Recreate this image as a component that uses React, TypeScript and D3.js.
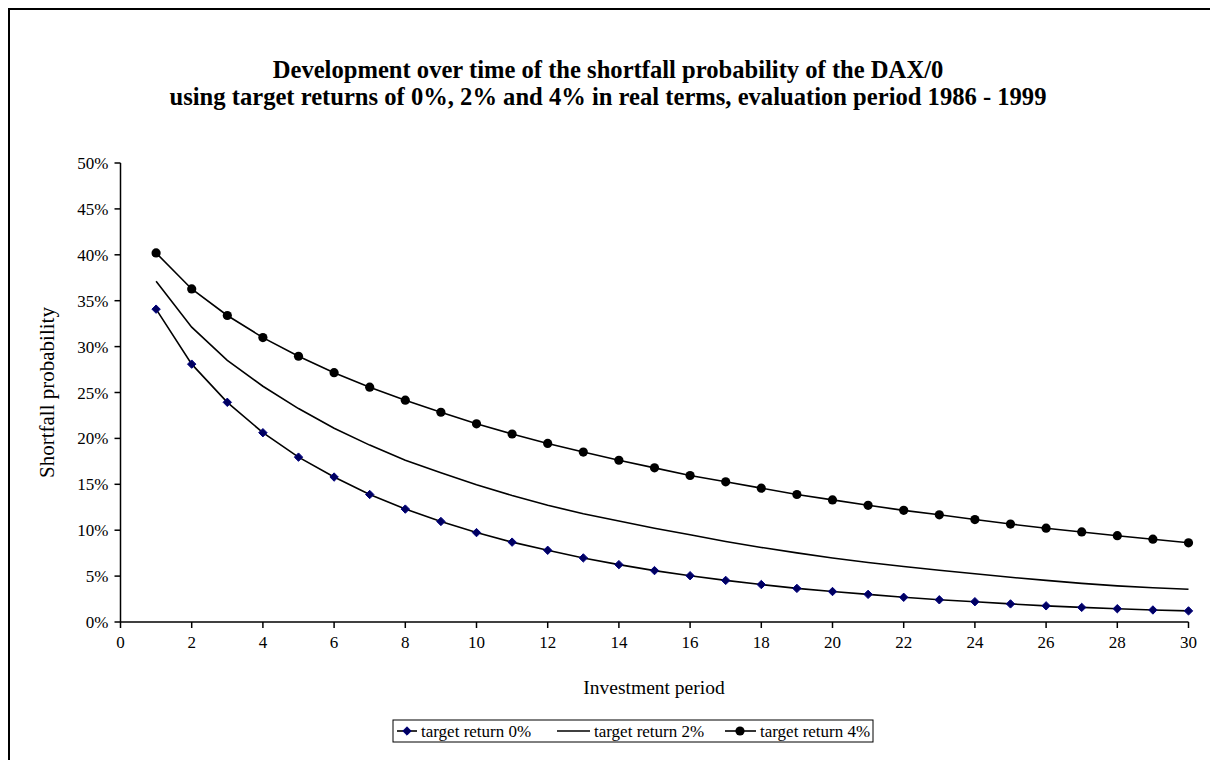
import React from "react";
import * as d3 from "d3";

const periods = [1, 2, 3, 4, 5, 6, 7, 8, 9, 10, 11, 12, 13, 14, 15, 16, 17, 18, 19, 20, 21, 22, 23, 24, 25, 26, 27, 28, 29, 30];
const target0 = [34.08, 28.09, 23.93, 20.62, 17.96, 15.79, 13.89, 12.3, 10.95, 9.74, 8.7, 7.81, 6.98, 6.25, 5.6, 5.04, 4.53, 4.08, 3.66, 3.32, 3.01, 2.69, 2.42, 2.21, 1.97, 1.76, 1.59, 1.45, 1.31, 1.21];
const target2 = [37.11, 32.12, 28.5, 25.68, 23.25, 21.1, 19.27, 17.62, 16.27, 14.96, 13.78, 12.71, 11.8, 11.0, 10.22, 9.5, 8.77, 8.12, 7.53, 6.98, 6.49, 6.04, 5.63, 5.25, 4.87, 4.53, 4.21, 3.94, 3.73, 3.56];
const target4 = [40.2, 36.28, 33.39, 30.98, 28.95, 27.16, 25.58, 24.16, 22.85, 21.59, 20.48, 19.45, 18.51, 17.62, 16.79, 15.96, 15.27, 14.58, 13.89, 13.3, 12.71, 12.16, 11.68, 11.16, 10.67, 10.22, 9.81, 9.4, 9.02, 8.63];
const xTicks = [0, 2, 4, 6, 8, 10, 12, 14, 16, 18, 20, 22, 24, 26, 28, 30];
const yTicks = [0, 5, 10, 15, 20, 25, 30, 35, 40, 45, 50];
const titleLines = [
  "Development over time of the shortfall probability of the DAX/0",
  "using target returns of 0%, 2% and 4% in real terms, evaluation period 1986 - 1999",
];
const legendLabels = ["target return 0%", "target return 2%", "target return 4%"];

const W = 1210;
const H = 752;
const FONT = "'Liberation Serif', 'Times New Roman', serif";

export default function App() {
  const x = d3.scaleLinear().domain([0, 30]).range([112.5, 1180.5]);
  const y = d3.scaleLinear().domain([0, 50]).range([614, 155]);
  const line = d3
    .line<[number, number]>()
    .x((d) => x(d[0]))
    .y((d) => y(d[1]));
  const pts = (vals: number[]) => periods.map((p, i) => [p, vals[i]] as [number, number]);
  const diamond = (cx: number, cy: number, r: number) =>
    `M${cx},${cy - r}L${cx + r},${cy}L${cx},${cy + r}L${cx - r},${cy}Z`;

  const legY = 723;
  return (
    <svg width={W} height={H} style={{ display: "block" }} fontFamily={FONT}>
      <rect x={0} y={0} width={W} height={H} fill="#fff" />
      <rect x={1} y={1} width={W + 50} height={H + 50} fill="none" stroke="#000" strokeWidth={2} />
      {titleLines.map((t, i) => (
        <text key={i} x={600} y={70 + i * 27} textAnchor="middle" fontWeight="bold" fontSize={24.6}>
          {t}
        </text>
      ))}
      {/* axes */}
      <line x1={x(0)} x2={x(30)} y1={y(0)} y2={y(0)} stroke="#000" strokeWidth={1.5} />
      <line x1={x(0)} x2={x(0)} y1={y(0)} y2={y(50)} stroke="#000" strokeWidth={1.5} />
      {xTicks.map((t) => (
        <g key={"x" + t}>
          <line x1={x(t)} x2={x(t)} y1={y(0)} y2={y(0) + 6} stroke="#000" strokeWidth={1.5} />
          <text x={x(t)} y={y(0) + 26} textAnchor="middle" fontSize={17}>
            {t}
          </text>
        </g>
      ))}
      {yTicks.map((t) => (
        <g key={"y" + t}>
          <line x1={x(0) - 6} x2={x(0)} y1={y(t)} y2={y(t)} stroke="#000" strokeWidth={1.5} />
          <text x={x(0) - 12} y={y(t) + 6} textAnchor="end" fontSize={17}>
            {t + "%"}
          </text>
        </g>
      ))}
      <text x={646} y={686} textAnchor="middle" fontSize={19.5}>
        Investment period
      </text>
      <text
        transform={`translate(${46},${y(25)}) rotate(-90)`}
        textAnchor="middle"
        fontSize={21}
      >
        Shortfall probability
      </text>
      {/* series */}
      <path d={line(pts(target2)) || ""} fill="none" stroke="#000" strokeWidth={1.6} />
      <path d={line(pts(target0)) || ""} fill="none" stroke="#000" strokeWidth={1.6} />
      <path d={line(pts(target4)) || ""} fill="none" stroke="#000" strokeWidth={1.6} />
      {periods.map((p, i) => (
        <path key={"d" + p} d={diamond(x(p), y(target0[i]), 4.2)} fill="#000060" stroke="#000080" strokeWidth={1} />
      ))}
      {periods.map((p, i) => (
        <circle key={"c" + p} cx={x(p)} cy={y(target4[i])} r={4.6} fill="#000" />
      ))}
      {/* legend */}
      <rect x={385} y={legY - 11} width={480} height={22} fill="#fff" stroke="#000" strokeWidth={1} />
      <g fontSize={17}>
        <line x1={389} x2={409} y1={legY} y2={legY} stroke="#000" strokeWidth={1.6} />
        <path d={diamond(399, legY, 4.2)} fill="#000060" stroke="#000080" />
        <text x={413} y={legY + 6}>{legendLabels[0]}</text>
        <line x1={549} x2={582} y1={legY} y2={legY} stroke="#000" strokeWidth={1.6} />
        <text x={586} y={legY + 6}>{legendLabels[1]}</text>
        <line x1={717} x2={748} y1={legY} y2={legY} stroke="#000" strokeWidth={1.6} />
        <circle cx={732} cy={legY} r={4.6} fill="#000" />
        <text x={752} y={legY + 6}>{legendLabels[2]}</text>
      </g>
    </svg>
  );
}
